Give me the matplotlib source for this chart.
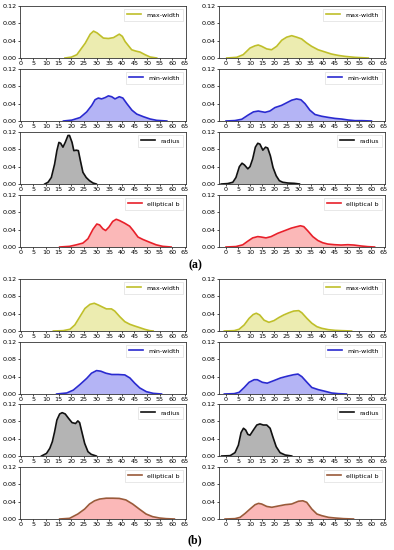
import matplotlib
matplotlib.use("Agg")
import matplotlib.pyplot as plt

# ------------------------------ Datos ------------------------------

# (a) columna izquierda
a_l_maxw_x = [17.5, 20.0, 22.2, 25.5, 27.5, 28.8, 30.2, 32.7, 34.7, 36.7, 39.0, 40.2, 41.3, 43.9, 45.5, 47.2, 49.2, 51.2, 53.8]
a_l_maxw_y = [0.0, 0.002, 0.0076, 0.034, 0.055, 0.062, 0.058, 0.046, 0.045, 0.047, 0.055, 0.050, 0.038, 0.019, 0.016, 0.0137, 0.0076, 0.0023, 0.0]
a_l_minw_x = [16.9, 20.2, 23.5, 26.1, 28.1, 29.4, 30.7, 32.0, 33.4, 34.7, 36.0, 37.3, 39.0, 40.4, 42.0, 44.0, 45.9, 48.5, 51.2, 53.8, 57.8]
a_l_minw_y = [0.0, 0.002, 0.008, 0.021, 0.036, 0.049, 0.053, 0.051, 0.054, 0.058, 0.056, 0.051, 0.056, 0.053, 0.040, 0.025, 0.016, 0.010, 0.0046, 0.0015, 0.0]
a_l_rad_x = [9.5, 10.8, 12.1, 13.4, 14.3, 15.1, 15.8, 16.7, 17.6, 18.7, 19.3, 20.3, 21.0, 22.0, 22.8, 23.6, 24.6, 25.9, 27.2, 28.6, 29.9]
a_l_rad_y = [0.0, 0.004, 0.015, 0.046, 0.077, 0.096, 0.094, 0.085, 0.096, 0.112, 0.112, 0.096, 0.077, 0.078, 0.077, 0.054, 0.027, 0.015, 0.0077, 0.0023, 0.0]
a_l_ellb_x = [15.4, 19.3, 22.0, 24.6, 26.6, 28.6, 30.1, 31.2, 32.5, 33.6, 34.9, 36.4, 37.8, 39.1, 41.1, 43.1, 44.5, 46.4, 48.3, 51.0, 53.6, 56.2, 59.5]
a_l_ellb_y = [0.0, 0.0015, 0.005, 0.009, 0.019, 0.041, 0.053, 0.051, 0.042, 0.038, 0.046, 0.059, 0.064, 0.061, 0.055, 0.048, 0.038, 0.023, 0.0175, 0.011, 0.005, 0.0015, 0.0]

# (a) columna derecha
a_r_maxw_x = [0.3, 4.4, 7.1, 9.9, 11.9, 13.3, 14.7, 16.8, 18.8, 20.9, 23.0, 25.0, 27.1, 29.2, 31.2, 33.2, 35.3, 38.0, 40.8, 43.5, 46.3, 49.0, 53.2, 58.7]
a_r_maxw_y = [0.0, 0.0015, 0.0077, 0.023, 0.028, 0.030, 0.027, 0.021, 0.019, 0.027, 0.041, 0.048, 0.0515, 0.048, 0.044, 0.035, 0.027, 0.019, 0.014, 0.0092, 0.006, 0.0038, 0.0015, 0.0]
a_r_minw_x = [0.0, 3.7, 6.5, 9.2, 11.3, 13.3, 16.1, 18.1, 20.2, 22.9, 25.0, 27.1, 29.1, 30.9, 32.6, 34.6, 36.7, 39.4, 42.2, 44.9, 47.7, 50.4, 53.2, 56.0, 60.0]
a_r_minw_y = [0.0, 0.001, 0.004, 0.014, 0.021, 0.023, 0.020, 0.023, 0.031, 0.036, 0.042, 0.048, 0.051, 0.049, 0.040, 0.025, 0.015, 0.011, 0.0083, 0.006, 0.0045, 0.0023, 0.0008, 0.0008, 0.0]
a_r_rad_x = [-2.0, 0.7, 2.8, 4.1, 5.5, 6.6, 7.6, 9.0, 9.9, 11.0, 12.1, 13.1, 14.0, 15.2, 16.3, 17.2, 18.3, 19.4, 20.7, 22.0, 23.4, 25.5, 28.2, 30.3]
a_r_rad_y = [0.0, 0.001, 0.004, 0.015, 0.040, 0.048, 0.044, 0.035, 0.040, 0.058, 0.085, 0.094, 0.092, 0.078, 0.085, 0.083, 0.065, 0.038, 0.019, 0.0077, 0.004, 0.0023, 0.0015, 0.0]
a_r_ellb_x = [0.0, 4.1, 6.9, 9.0, 11.0, 13.1, 14.5, 16.5, 18.6, 21.3, 24.1, 26.9, 28.9, 30.7, 32.1, 33.7, 35.8, 37.9, 39.9, 42.0, 44.8, 47.5, 50.3, 52.8, 55.8, 58.5, 61.3]
a_r_ellb_y = [0.0, 0.001, 0.005, 0.0135, 0.021, 0.024, 0.023, 0.021, 0.024, 0.0315, 0.0375, 0.0435, 0.0465, 0.049, 0.047, 0.0375, 0.024, 0.015, 0.0098, 0.0068, 0.0053, 0.0045, 0.0053, 0.0045, 0.0023, 0.0008, 0.0]

# (b) columna izquierda
b_l_maxw_x = [12.9, 16.8, 19.5, 21.4, 23.4, 25.4, 27.4, 29.1, 30.7, 32.6, 33.9, 35.9, 37.2, 39.2, 41.2, 43.2, 45.1, 47.1, 49.1, 51.1, 52.4]
b_l_maxw_y = [0.0, 0.0008, 0.004, 0.014, 0.033, 0.052, 0.0615, 0.064, 0.060, 0.0546, 0.051, 0.051, 0.046, 0.033, 0.0215, 0.0154, 0.0115, 0.0077, 0.0038, 0.0008, 0.0]
b_l_minw_x = [14.2, 18.2, 20.8, 23.4, 26.1, 28.0, 30.0, 31.7, 33.7, 36.0, 38.6, 41.2, 43.2, 45.1, 47.1, 49.7, 52.4, 55.7]
b_l_minw_y = [0.0, 0.0023, 0.009, 0.0217, 0.036, 0.048, 0.054, 0.0526, 0.048, 0.045, 0.045, 0.044, 0.037, 0.025, 0.014, 0.0054, 0.0015, 0.0]
b_l_rad_x = [8.2, 10.2, 11.5, 12.5, 13.4, 14.3, 15.4, 16.4, 17.6, 18.9, 20.3, 21.7, 22.6, 23.3, 24.0, 25.3, 26.6, 27.9, 29.9]
b_l_rad_y = [0.0, 0.006, 0.0177, 0.033, 0.056, 0.083, 0.097, 0.100, 0.097, 0.087, 0.077, 0.075, 0.081, 0.077, 0.060, 0.029, 0.010, 0.0038, 0.0]
b_l_ellb_x = [15.4, 19.3, 22.6, 25.3, 27.2, 29.2, 31.2, 33.8, 36.4, 39.0, 41.6, 44.3, 46.9, 49.6, 52.2, 54.9, 57.5, 60.8]
b_l_ellb_y = [0.0, 0.0015, 0.0115, 0.023, 0.0345, 0.042, 0.046, 0.048, 0.048, 0.0475, 0.044, 0.0345, 0.023, 0.0115, 0.0054, 0.0023, 0.0008, 0.0]

# (b) columna derecha
b_r_maxw_x = [-0.7, 3.4, 5.4, 7.5, 9.5, 11.2, 12.5, 13.9, 15.7, 17.7, 19.8, 21.8, 23.8, 25.9, 27.9, 30.0, 31.3, 33.4, 35.4, 37.5, 39.5, 42.2, 45.0, 47.7, 51.8]
b_r_maxw_y = [0.0, 0.0008, 0.004, 0.014, 0.029, 0.038, 0.041, 0.037, 0.025, 0.020, 0.024, 0.031, 0.037, 0.042, 0.046, 0.047, 0.042, 0.029, 0.018, 0.010, 0.0062, 0.0031, 0.0015, 0.0008, 0.0]
b_r_minw_x = [-0.7, 3.4, 5.4, 7.5, 9.5, 11.6, 12.9, 15.0, 17.0, 19.8, 22.5, 25.2, 27.9, 29.7, 31.3, 33.4, 35.4, 38.1, 40.9, 43.6, 46.3, 49.7]
b_r_minw_y = [0.0, 0.0008, 0.0038, 0.015, 0.027, 0.033, 0.033, 0.027, 0.025, 0.031, 0.037, 0.041, 0.0445, 0.046, 0.040, 0.027, 0.015, 0.010, 0.0062, 0.0023, 0.0008, 0.0]
b_r_rad_x = [-1.8, 1.7, 3.7, 5.1, 6.2, 7.2, 8.1, 9.0, 9.9, 11.3, 12.7, 14.0, 15.4, 16.8, 18.2, 19.3, 20.7, 22.3, 24.4, 27.1]
b_r_rad_y = [0.0, 0.0008, 0.0077, 0.025, 0.054, 0.064, 0.060, 0.050, 0.048, 0.060, 0.0715, 0.074, 0.0715, 0.0715, 0.064, 0.0446, 0.0215, 0.0077, 0.0023, 0.0]
b_r_ellb_x = [-0.4, 3.7, 5.8, 7.9, 9.9, 12.0, 13.4, 14.7, 16.8, 18.9, 21.6, 24.4, 27.1, 29.9, 31.7, 33.3, 35.4, 37.5, 39.5, 42.3, 45.0, 48.5, 52.6]
b_r_ellb_y = [0.0, 0.0008, 0.0038, 0.013, 0.023, 0.033, 0.036, 0.0346, 0.029, 0.027, 0.030, 0.033, 0.0346, 0.041, 0.042, 0.0385, 0.023, 0.0115, 0.0077, 0.0038, 0.0023, 0.0008, 0.0]

etiquetas = ['max-width', 'min-width', 'radius', 'elliptical b']
colores_a = ['#bfbf2a', '#2a2ad0', '#111111', '#e8202a']
colores_b = ['#bfbf2a', '#2a2ad0', '#111111', '#9a5a3a']
rellenos = ['#ecec b0'.replace(' ', ''), '#b4b4f5', '#b4b4b4', '#fbb8b8']

xticks = list(range(0, 66, 5))
yticks = [0.00, 0.04, 0.08, 0.12]

# ------------------------------ Funcion de dibujo ------------------------------

W, H = 394, 550
fig = plt.figure(figsize=(W / 100, H / 100), dpi=100)


def panel(px_left, px_top, xlim, xs, ys, color, relleno, etiqueta):
    ax = fig.add_axes([px_left / W, 1 - (px_top + 52) / H, 166 / W, 52 / H])
    ax.fill_between(xs, ys, 0, color=relleno, lw=0)
    ax.plot(xs, ys, color=color, lw=1.2, label=etiqueta)
    ax.set_xlim(*xlim)
    ax.set_ylim(0, 0.12)
    ax.set_xticks(xticks)
    ax.set_yticks(yticks)
    ax.set_yticklabels(['%.2f' % v for v in yticks])
    ax.tick_params(labelsize=4.6, length=1.5, width=0.5, pad=1)
    for s in ax.spines.values():
        s.set_linewidth(0.6)
        s.set_color('#333333')
    leg = ax.legend(loc='upper right', fontsize=4.5, handlelength=2.3,
                    borderpad=0.5, handletextpad=0.8, fancybox=False)
    leg.get_frame().set_linewidth(0.4)
    return ax


tops_a = [6, 69, 132, 195]
tops_b = [279, 342, 404, 467]
xlim_izq = (-0.3, 65.4)
xlim_der = (-2.9, 65.6)

series_a_izq = [(a_l_maxw_x, a_l_maxw_y), (a_l_minw_x, a_l_minw_y), (a_l_rad_x, a_l_rad_y), (a_l_ellb_x, a_l_ellb_y)]
series_a_der = [(a_r_maxw_x, a_r_maxw_y), (a_r_minw_x, a_r_minw_y), (a_r_rad_x, a_r_rad_y), (a_r_ellb_x, a_r_ellb_y)]
series_b_izq = [(b_l_maxw_x, b_l_maxw_y), (b_l_minw_x, b_l_minw_y), (b_l_rad_x, b_l_rad_y), (b_l_ellb_x, b_l_ellb_y)]
series_b_der = [(b_r_maxw_x, b_r_maxw_y), (b_r_minw_x, b_r_minw_y), (b_r_rad_x, b_r_rad_y), (b_r_ellb_x, b_r_ellb_y)]

for i in range(4):
    panel(20, tops_a[i], xlim_izq, *series_a_izq[i], colores_a[i], rellenos[i], etiquetas[i])
    panel(219, tops_a[i], xlim_der, *series_a_der[i], colores_a[i], rellenos[i], etiquetas[i])
    panel(20, tops_b[i], xlim_izq, *series_b_izq[i], colores_b[i], rellenos[i], etiquetas[i])
    panel(219, tops_b[i], xlim_der, *series_b_der[i], colores_b[i], rellenos[i], etiquetas[i])

fig.text(195 / W, 1 - 265 / H, '(a)', ha='center', va='center', fontsize=8.5,
         fontweight='bold', family='Liberation Serif')
fig.text(195 / W, 1 - 540 / H, '(b)', ha='center', va='center', fontsize=8.5,
         fontweight='bold', family='Liberation Serif')

fig.savefig('out.png', dpi=100)
